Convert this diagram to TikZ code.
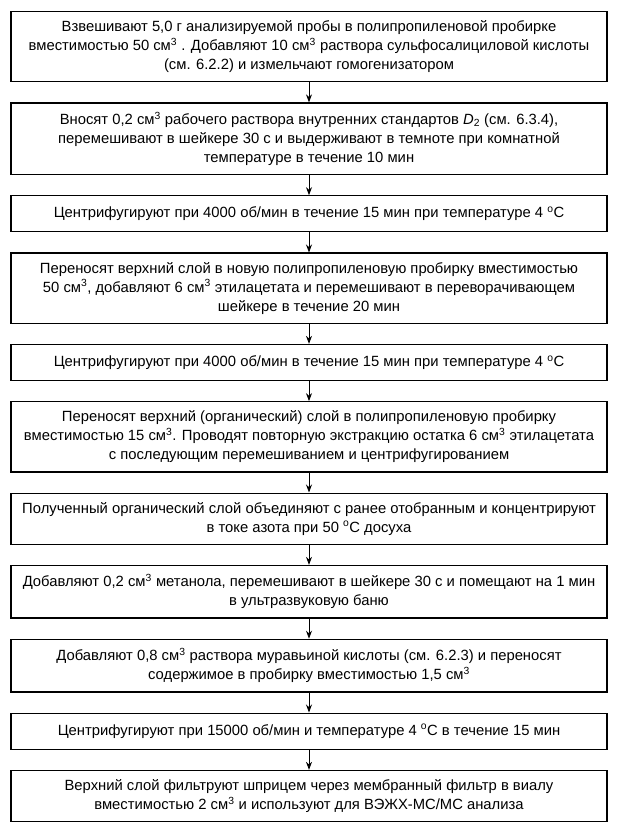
\documentclass[tikz,border=0pt]{standalone}
\usepackage{fontspec}
\setmainfont{Liberation Sans}
\usepackage{tikz}
\usetikzlibrary{positioning,arrows.meta}
\newcommand{\kub}{см\textsuperscript{3}}
\newcommand{\grad}{\textsuperscript{o}C}

\begin{document}
\begin{tikzpicture}[
      shag/.style={draw=black,line width=1.3pt,fill=white,
                   minimum width=596pt,minimum height=36pt,inner xsep=4pt,inner ysep=9pt,
                   align=center,font=\fontsize{14.8}{19}\selectfont},
      strelka/.style={-{Stealth[length=8pt,width=6pt]},line width=0.9pt},
      node distance=20pt]
    \useasboundingbox (0,0) rectangle (616pt,-837pt);
    \node[shag,anchor=north] (vz) at (309pt,-11pt) {Взвешивают 5,0 г анализируемой пробы в полипропиленовой пробирке\\вместимостью 50 \kub\ . Добавляют 10 \kub\ раствора сульфосалициловой кислоты\\(см. 6.2.2) и измельчают гомогенизатором};
    \node[shag,below=of vz] (vn) {Вносят 0,2 \kub\ рабочего раствора внутренних стандартов \textit{D}\textsubscript{2} (см. 6.3.4),\\перемешивают в шейкере 30 с и выдерживают в темноте при комнатной\\температуре в течение 10 мин};
    \node[shag,below=of vn] (c1) {Центрифугируют при 4000 об/мин в течение 15 мин при температуре 4 \grad};
    \node[shag,below=of c1] (per) {Переносят верхний слой в новую полипропиленовую пробирку вместимостью\\50 \kub, добавляют 6 \kub\ этилацетата и перемешивают в переворачивающем\\шейкере в течение 20 мин};
    \node[shag,below=of per] (c2) {Центрифугируют при 4000 об/мин в течение 15 мин при температуре 4 \grad};
    \node[shag,below=of c2] (org) {Переносят верхний (органический) слой в полипропиленовую пробирку\\вместимостью 15 \kub. Проводят повторную экстракцию остатка 6 \kub\ этилацетата\\с последующим перемешиванием и центрифугированием};
    \node[shag,below=of org] (konc) {Полученный органический слой объединяют с ранее отобранным и концентрируют\\в токе азота при 50 \grad\ досуха};
    \node[shag,below=of konc] (met) {Добавляют 0,2 \kub\ метанола, перемешивают в шейкере 30 с и помещают на 1 мин\\в ультразвуковую баню};
    \node[shag,below=of met] (mur) {Добавляют 0,8 \kub\ раствора муравьиной кислоты (см. 6.2.3) и переносят\\содержимое в пробирку вместимостью 1,5 \kub};
    \node[shag,below=of mur] (c3) {Центрифугируют при 15000 об/мин и температуре 4 \grad\ в течение 15 мин};
    \node[shag,below=of c3] (filtr) {Верхний слой фильтруют шприцем через мембранный фильтр в виалу\\вместимостью 2 \kub\ и используют для ВЭЖХ-МС/МС анализа};
    \draw[strelka] (vz) -- (vn);
    \draw[strelka] (vn) -- (c1);
    \draw[strelka] (c1) -- (per);
    \draw[strelka] (per) -- (c2);
    \draw[strelka] (c2) -- (org);
    \draw[strelka] (org) -- (konc);
    \draw[strelka] (konc) -- (met);
    \draw[strelka] (met) -- (mur);
    \draw[strelka] (mur) -- (c3);
    \draw[strelka] (c3) -- (filtr);
  \end{tikzpicture}
\end{document}
